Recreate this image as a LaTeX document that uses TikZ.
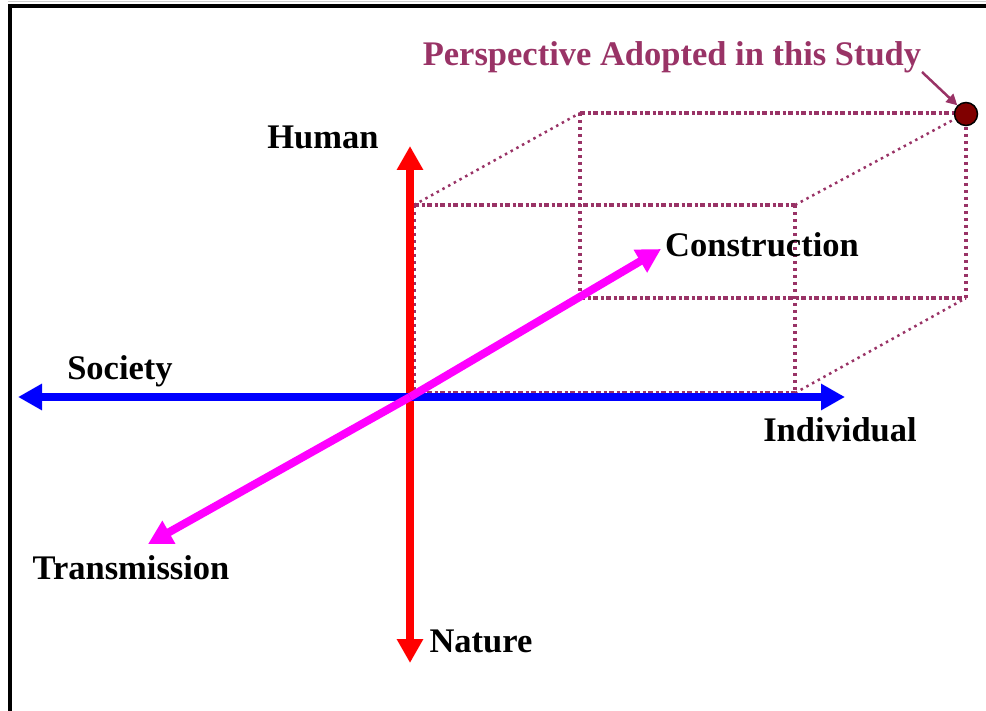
\documentclass[tikz,border=0pt]{standalone}
\usepackage{fontspec}
\setmainfont{Liberation Serif}
\usetikzlibrary{arrows.meta}
\definecolor{plum}{HTML}{993366}
\definecolor{mag}{HTML}{FF00FF}
\definecolor{dotred}{HTML}{800000}
\begin{document}
\begin{tikzpicture}[x=1pt,y=-1pt,
  lbl/.style={font=\fontsize{34.5}{40}\selectfont\bfseries, inner sep=0pt, anchor=base},
  axis/.style={line width=8pt, -{Triangle[length=24pt,width=25pt]}},
  facedash/.style={plum, line width=3.5pt, dash pattern=on 5pt off 2.5pt on 3pt off 2.5pt},
  facedot/.style={plum, line width=3.5pt, dash pattern=on 3.5pt off 3.5pt},
  thindot/.style={plum, line width=2.5pt, dash pattern=on 2.5pt off 4pt}]
\useasboundingbox (0,0) rectangle (986,711);
% frame
\draw[gray!40, line width=1pt] (8,1.5) -- (986,1.5);
\draw[black, line width=4pt] (8,6) -- (986,6);
\draw[black, line width=4pt] (10,4) -- (10,711);
% box coordinates
\coordinate (f1) at (414,205);
\coordinate (f2) at (795,205);
\coordinate (f3) at (795,393);
\coordinate (f4) at (414,393);
\coordinate (b1) at (580,113);
\coordinate (b2) at (966,113);
\coordinate (b3) at (966,298);
\coordinate (b4) at (580,298);
% back face
\draw[facedash] (b1) -- (b2);
\draw[facedash] (b4) -- (b3);
\draw[facedot] (b1) -- (b4);
\draw[facedot] (b2) -- (b3);
% connecting edges
\draw[thindot] (f1) -- (b1);
\draw[thindot] (f2) -- (b2);
\draw[thindot] (f3) -- (b3);
\draw[thindot] (f4) -- (b4);
% front face
\draw[facedash] (f1) -- (f2);
\draw[facedash] (f4) -- (f3);
\draw[facedot] (f1) -- (f4);
\draw[facedot] (f2) -- (f3);
% axes
\coordinate (hT) at (410,146);
\coordinate (hB) at (410,663);
\coordinate (hL) at (18,397);
\coordinate (hR) at (845,397);
\coordinate (mT) at (661,249);
\coordinate (mB) at (148,544);
\coordinate (o) at (410,397);
\draw[axis, red] (o) -- (hT);
\draw[axis, red] (o) -- (hB);
\draw[axis, blue] (o) -- (hL);
\draw[axis, blue] (o) -- (hR);
\draw[axis, mag] (o) -- (mT);
\draw[axis, mag] (o) -- (mB);
% labels
\node[lbl] (human) at (323,149) {Human};
\node[lbl] (society) at (120,380) {Society};
\node[lbl] (constr) at (762,257) {Construction};
\node[lbl] (indiv) at (840,442) {Individual};
\node[lbl] (trans) at (131,579) {Transmission};
\node[lbl] (nature) at (481,652) {Nature};
\node[lbl, plum] (persp) at (672,66) {Perspective Adopted in this Study};
% point
\node[circle, draw=black, line width=1.5pt, fill=dotred, minimum size=23pt, inner sep=0pt] (pt) at (966,114) {};
\draw[plum, line width=2.5pt, -{Triangle[length=11pt,width=11pt]}] (922,72) -- (pt.north west);
\end{tikzpicture}
\end{document}
